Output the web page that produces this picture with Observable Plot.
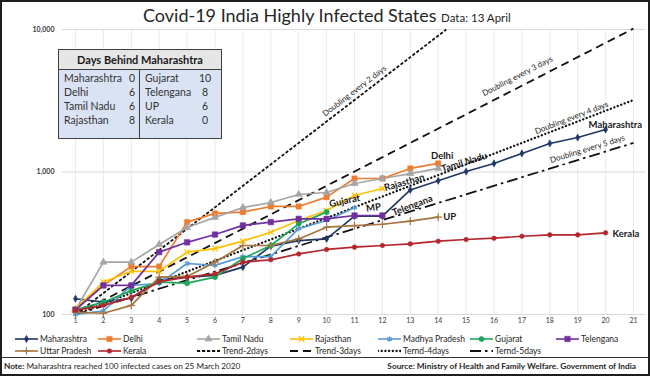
<!DOCTYPE html>
<html><head><meta charset="utf-8">
<script src="https://cdn.jsdelivr.net/npm/d3@7"></script>
<script src="https://cdn.jsdelivr.net/npm/@observablehq/plot@0.6"></script>
<style>
html,body{margin:0;padding:0;background:#fff;}
#wrap{position:relative;width:650px;height:376px;overflow:hidden;font-family:Lato,"Open Sans",sans-serif;background:#fff;color:#262626;}
#frame{position:absolute;left:0;top:0;width:650px;height:376px;box-sizing:border-box;border:2px solid #1e1e1e;pointer-events:none;}
#chart{position:absolute;left:0;top:0;}
#title{position:absolute;left:143px;top:4px;font-size:18px;white-space:nowrap;color:#262626;}
#title span{font-size:11.5px;}
#tbl{position:absolute;left:58px;top:49px;width:164px;height:90px;box-sizing:border-box;border:1px solid #3f3f3f;background:#dae3f3;font-size:10.5px;color:#333;}
#tbl .hd{height:19px;background:#e7e6e6;border-bottom:1px solid #3f3f3f;font-weight:bold;font-size:11px;text-align:center;line-height:19px;color:#1a1a1a;}
#tbl .vd{position:absolute;left:80px;top:20px;bottom:0;width:1px;background:#3f3f3f;}
#tbl .c{position:absolute;white-space:nowrap;line-height:12px;}
.lg{position:absolute;white-space:nowrap;font-size:8.5px;line-height:10px;color:#262626;display:flex;align-items:center;}
.lg svg{margin-right:2px;}
#sep{position:absolute;left:0;top:357px;width:650px;height:1px;background:#333;}
#note{position:absolute;left:4px;top:361px;font-size:8.2px;white-space:nowrap;color:#262626;}
#src{position:absolute;right:14px;top:361px;font-size:8.3px;font-weight:bold;white-space:nowrap;color:#262626;}
</style>
</head><body>
<div id="wrap">
  <div id="chart"></div>
  <div id="title">Covid-19 India Highly Infected States <span>Data: 13 April</span></div>
  <div id="tbl"><div class="hd">Days Behind Maharashtra</div><div class="vd"></div></div>
  <div id="legend"></div>
  <div id="sep"></div>
  <div id="note"><b>Note:</b> Maharashtra reached 100 infected cases on 25 March 2020</div>
  <div id="src">Source: Ministry of Health and Family Welfare. Government of India</div>
  <div id="frame"></div>
</div>
<script>
// ---------- data ----------
const days = [1,2,3,4,5,6,7,8,9,10,11,12,13,14,15,16,17,18,19,20,21];
const yTicks = [100, 1000, 10000];

const maharashtra = [129, 122, 130, 175, 183, 188, 215, 302, 330, 339, 490, 490, 748, 868, 1008, 1148, 1350, 1586, 1746, 1987];
const delhi       = [108, 160, 217, 217, 445, 512, 523, 573, 573, 666, 900, 900, 1059, 1148];
const tamilNadu   = [108, 233, 233, 310, 408, 480, 563, 611, 695, 718, 830, 900, 975, 1059];
const rajasthan   = [110, 169, 201, 201, 274, 290, 327, 378, 457, 537, 684, 766];
const madhyaPradesh = [100, 106, 160, 165, 228, 221, 255, 255, 400, 457, 562];
const gujarat     = [108, 122, 147, 169, 166, 183, 247, 305, 433, 523];
const telangana   = [108, 160, 160, 274, 321, 364, 422, 445, 469, 469, 495, 495];
const uttarPradesh = [104, 102, 116, 183, 185, 233, 305, 305, 339, 410, 421, 430, 452, 482];
const kerala      = [107, 116, 132, 170, 183, 193, 233, 242, 266, 286, 297, 305, 313, 327, 336, 343, 354, 362, 362, 374];

// trend lines: start at 100 on day 1, doubling every N days (end points)
const trend2 = [[1, 100], [14.29, 10000]];
const trend3 = [[1, 100], [21, 10159]];
const trend4 = [[1, 100], [21, 3200]];
const trend5 = [[1, 100], [21, 1600]];

const tableLeftNames = ["Maharashtra", "Delhi", "Tamil Nadu", "Rajasthan"];
const tableLeftDays = [0, 6, 6, 8];
const tableRightNames = ["Gujarat", "Telengana", "UP", "Kerala"];
const tableRightDays = [10, 8, 6, 0];

// ---------- styling ----------
const series = [
  {name:"Maharashtra", values:maharashtra, color:"#1f3864", symbol:"diamond", r:2.2, fill:true},
  {name:"Delhi", values:delhi, color:"#ed7d31", symbol:"square", r:3.0, fill:true},
  {name:"Tamil Nadu", values:tamilNadu, color:"#a5a5a5", symbol:"triangle", r:2.7, fill:true},
  {name:"Rajasthan", values:rajasthan, color:"#ffc000", symbol:"times", r:2.6, fill:false},
  {name:"Madhya Pradesh", values:madhyaPradesh, color:"#5b9bd5", symbol:"asterisk", r:2.6, fill:false},
  {name:"Gujarat", values:gujarat, color:"#1fa55a", symbol:"circle", r:2.6, fill:true},
  {name:"Telengana", values:telangana, color:"#7030a0", symbol:"square", r:3.1, fill:true},
  {name:"Uttar Pradesh", values:uttarPradesh, color:"#a5753f", symbol:"plus", r:2.6, fill:false},
  {name:"Kerala", values:kerala, color:"#b3262c", symbol:"circle", r:2.3, fill:true}
];
const trends = [
  {name:"Trend-2days", data:trend2, dash:"3.2,1.8", sw:1.8, cap:"butt"},
  {name:"Trend-3days", data:trend3, dash:"8,5", sw:1.8, cap:"butt"},
  {name:"Ternd-4days", data:trend4, dash:"0.1,3.6", sw:2.3, cap:"round"},
  {name:"Ternd-5days", data:trend5, dash:"11,4,2.5,4", sw:1.8, cap:"butt"}
];

const fontFamily = "Lato, 'Open Sans', sans-serif";
const marks = [
  Plot.ruleX(days, {stroke:"#ececec", strokeWidth:1}),
  Plot.ruleY(yTicks, {stroke:"#d9d9d9", strokeWidth:1, insetLeft:-13, insetRight:-12}),
  Plot.axisX(days, {tickSize:0, tickPadding:4, fontSize:7, fill:"#3a3a3a", label:null}),
  Plot.axisY(yTicks, {tickSize:0, tickPadding:21, fontSize:7, fill:"#3a3a3a", fontWeight:"bold", tickFormat:d3.format(","), label:null})
];
for (const t of trends) {
  marks.push(Plot.line(t.data, {x:d=>d[0], y:d=>d[1], stroke:"#111", strokeWidth:t.sw, strokeDasharray:t.dash, strokeLinecap:t.cap}));
}
const trendLabels = [
  {text:"Doubling every 2 days", day:11.0, v:3700, rot:-37.6},
  {text:"Doubling every 3 days", day:16.84, v:4700, rot:-27.1},
  {text:"Doubling every 4 days", day:18.78, v:2400, rot:-21},
  {text:"Doubling every 5 days", day:19.35, v:1450, rot:-17.1}
];
for (const l of trendLabels) {
  marks.push(Plot.text([l], {x:"day", y:"v", text:"text", rotate:l.rot, fontSize:8, fill:"#262626"}));
}
for (const s of series) {
  const pts = s.values.map((v,i)=>({day:i+1, v}));
  marks.push(Plot.line(pts, {x:"day", y:"v", stroke:s.color, strokeWidth:1.7}));
}
for (const s of series) {
  const pts = s.values.map((v,i)=>({day:i+1, v}));
  marks.push(Plot.dot(pts, {x:"day", y:"v", symbol:s.symbol, r:s.r,
    fill: s.fill ? s.color : "none", stroke:s.color, strokeWidth: s.fill ? 0.5 : 1.2}));
}
// end-of-line labels
const endLabels = [
  {values:maharashtra, text:"Maharashtra", dx:-17, dy:-5, rot:0, anchor:"start"},
  {values:kerala, text:"Kerala", dx:7, dy:1, rot:0, anchor:"start"},
  {values:delhi, text:"Delhi", dx:4, dy:-8, rot:0, anchor:"middle"},
  {values:tamilNadu, text:"Tamil Nadu", dx:26, dy:-6, rot:-17, anchor:"middle"},
  {values:rajasthan, text:"Rajasthan", dx:22, dy:-6, rot:-16, anchor:"middle"},
  {values:gujarat, text:"Gujarat", dx:18, dy:-11, rot:-12, anchor:"middle"},
  {values:madhyaPradesh, text:"MP", dx:19, dy:0, rot:-8, anchor:"middle"},
  {values:telangana, text:"Telengana", dx:30, dy:-10, rot:-21, anchor:"middle"},
  {values:uttarPradesh, text:"UP", dx:5, dy:0, rot:0, anchor:"start"}
];
for (const l of endLabels) {
  const last = {day:l.values.length, v:l.values[l.values.length-1], text:l.text};
  marks.push(Plot.text([last], {x:"day", y:"v", text:"text", dx:l.dx, dy:l.dy, rotate:l.rot,
    textAnchor:l.anchor, fontSize:9.5, fontWeight:"bold", fill:"#1a1a1a"}));
}

const chart = Plot.plot({
  width:650, height:330,
  marginTop:29, marginBottom:16, marginLeft:75, marginRight:17,
  style:{fontFamily, background:"transparent", overflow:"visible"},
  x:{domain:[1,21]},
  y:{type:"log", domain:[100,10000]},
  marks
});
document.getElementById("chart").appendChild(chart);

// ---------- table ----------
const tbl = document.getElementById("tbl");
const rowTop = [22, 36, 50, 64];
tableLeftNames.forEach((n,i)=>{
  const a = document.createElement("div"); a.className="c"; a.style.left="5px"; a.style.top=rowTop[i]+"px"; a.textContent=n; tbl.appendChild(a);
  const b = document.createElement("div"); b.className="c"; b.style.right=(162-76)+"px"; b.style.top=rowTop[i]+"px"; b.textContent=tableLeftDays[i]; tbl.appendChild(b);
  const c = document.createElement("div"); c.className="c"; c.style.left="86px"; c.style.top=rowTop[i]+"px"; c.textContent=tableRightNames[i]; tbl.appendChild(c);
  const d = document.createElement("div"); d.className="c"; d.style.left="136px"; d.style.width="20px"; d.style.textAlign="center"; d.style.top=rowTop[i]+"px"; d.textContent=tableRightDays[i]; tbl.appendChild(d);
});

// ---------- legend ----------
const symMap = {diamond:d3.symbolDiamond, square:d3.symbolSquare, triangle:d3.symbolTriangle, times:d3.symbolTimes, asterisk:d3.symbolAsterisk, circle:d3.symbolCircle, plus:d3.symbolPlus};
function swatch(spec){
  const w=23,h=8;
  const svg = d3.create("svg").attr("width",w).attr("height",h);
  svg.append("line").attr("x1",0).attr("x2",w).attr("y1",h/2).attr("y2",h/2)
    .attr("stroke",spec.color||"#111").attr("stroke-width",spec.sw||1.6)
    .attr("stroke-dasharray",spec.dash||null).attr("stroke-linecap",spec.cap||"butt");
  if (spec.symbol) {
    svg.append("path").attr("d", d3.symbol(symMap[spec.symbol], Math.PI*spec.r*spec.r)())
      .attr("transform",`translate(${w/2},${h/2})`)
      .attr("fill", spec.fill ? spec.color : "none").attr("stroke", spec.color).attr("stroke-width", spec.fill?0.5:1.2);
  }
  return svg.node();
}
const legend = document.getElementById("legend");
const colX = [15, 98, 197, 290, 378, 470, 556];
const row1 = ["Maharashtra","Delhi","Tamil Nadu","Rajasthan","Madhya Pradesh","Gujarat","Telengana"];
const row2 = ["Uttar Pradesh","Kerala","Trend-2days","Trend-3days","Ternd-4days","Ternd-5days"];
function addItem(name, col, top){
  const s = series.find(d=>d.name===name) || trends.find(d=>d.name===name);
  const div = document.createElement("div"); div.className="lg";
  div.style.left = colX[col]+"px"; div.style.top = top+"px";
  div.appendChild(swatch(s));
  const sp = document.createElement("span"); sp.textContent = name; div.appendChild(sp);
  legend.appendChild(div);
}
row1.forEach((n,i)=>addItem(n,i,334));
row2.forEach((n,i)=>addItem(n,i,346));
</script>
</body></html>
